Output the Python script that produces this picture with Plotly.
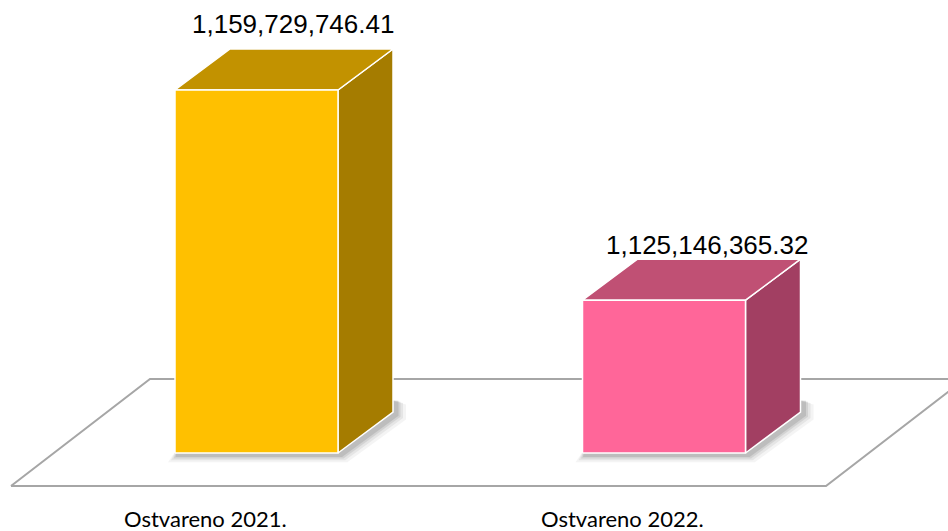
import plotly.graph_objects as go

# ---- data ----
categories = ["Ostvareno 2021.", "Ostvareno 2022."]
values = [1159729746.41, 1125146365.32]
value_labels = ["1,159,729,746.41", "1,125,146,365.32"]

# ---- styling ----
front_colors = ["#FFC000", "#FF6699"]
top_colors = ["#C29200", "#C05074"]
side_colors = ["#A57C00", "#A23F62"]
label_offsets_px = [(36, 66), (43, 55)]     # value label offset from front-top centre
cat_offsets_px = [-51, -42]                  # category label offset from bar centre

# ---- geometry (axis units) ----
W, H = 948, 531
Y_BASE = 1.1e9                       # value axis floor
Y_PER_PX = (values[0] - Y_BASE) / 363.0
X_PER_PX = 1 / 407.5                 # category spacing in pixels
x0px = 256.5                         # pixel of first category centre

HALF = 81.5 * X_PER_PX
DX = 55 * X_PER_PX
DY = 41 * Y_PER_PX

fig = go.Figure()

def poly(xs, ys, fill, line_color="white", lw=1.5, opacity=1.0):
    fig.add_trace(go.Scatter(
        x=list(xs) + [xs[0]], y=list(ys) + [ys[0]], mode="lines",
        fill="toself", fillcolor=fill, opacity=opacity,
        line=dict(color=line_color, width=lw), hoverinfo="skip", showlegend=False))

# floor
fy_front = Y_BASE - 33 * Y_PER_PX
fy_back = Y_BASE + 74 * Y_PER_PX
fxl = -245.5 * X_PER_PX
fxr = 569.5 * X_PER_PX
fdx = 139 * X_PER_PX
fig.add_trace(go.Scatter(
    x=[fxl, fxr, fxr + fdx, fxl + fdx, fxl],
    y=[fy_front, fy_front, fy_back, fy_back, fy_front],
    mode="lines", line=dict(color="#A6A6A6", width=2),
    hoverinfo="skip", showlegend=False))

px = lambda n: n * X_PER_PX
py = lambda n: n * Y_PER_PX

for i, v in enumerate(values):
    xl, xr = i - HALF, i + HALF
    # soft shadow (bar base silhouette offset down-right, layered blur)
    for b, op in [(9, 0.07), (6, 0.10), (3.5, 0.14), (1.5, 0.18)]:
        poly([xl - px(b) + px(2), xr + px(3 + b * 0.7), xr + DX + px(4 + b),
              xr + DX + px(4 + b), xr + DX - px(4), xl + px(2)],
             [Y_BASE - py(3 + b * 0.7), Y_BASE - py(3 + b * 0.7), Y_BASE + DY - py(3 + b * 0.5),
              Y_BASE + DY + py(12 - b * 0.5), Y_BASE + DY + py(12), Y_BASE + py(4)],
             "#606060", line_color="rgba(0,0,0,0)", lw=0, opacity=op)
    # side face
    poly([xr, xr + DX, xr + DX, xr], [Y_BASE, Y_BASE + DY, v + DY, v], side_colors[i])
    # top face
    poly([xl, xr, xr + DX, xl + DX], [v, v, v + DY, v + DY], top_colors[i])
    # front face
    poly([xl, xr, xr, xl], [Y_BASE, Y_BASE, v, v], front_colors[i])

    ox, oy = label_offsets_px[i]
    fig.add_annotation(x=i + px(ox), y=v + py(oy), text=value_labels[i],
                       showarrow=False, yanchor="middle",
                       font=dict(family="Liberation Sans, Arial", size=26, color="#000000"))
    fig.add_annotation(x=i + px(cat_offsets_px[i]), y=Y_BASE - py(65), text=categories[i],
                       showarrow=False, yanchor="middle",
                       font=dict(family="Lato, Open Sans", size=22, color="#000000"))

fig.update_xaxes(range=[-x0px * X_PER_PX, (W - x0px) * X_PER_PX], visible=False, fixedrange=True)
fig.update_yaxes(range=[Y_BASE - 78 * Y_PER_PX, Y_BASE + 453 * Y_PER_PX], visible=False, fixedrange=True)
fig.update_layout(width=W, height=H, margin=dict(l=0, r=0, t=0, b=0),
                  plot_bgcolor="white", paper_bgcolor="white", showlegend=False)

fig.write_html("out.html", config={"displayModeBar": False},
               post_script="document.body.style.margin='0';document.body.style.overflow='hidden';")
